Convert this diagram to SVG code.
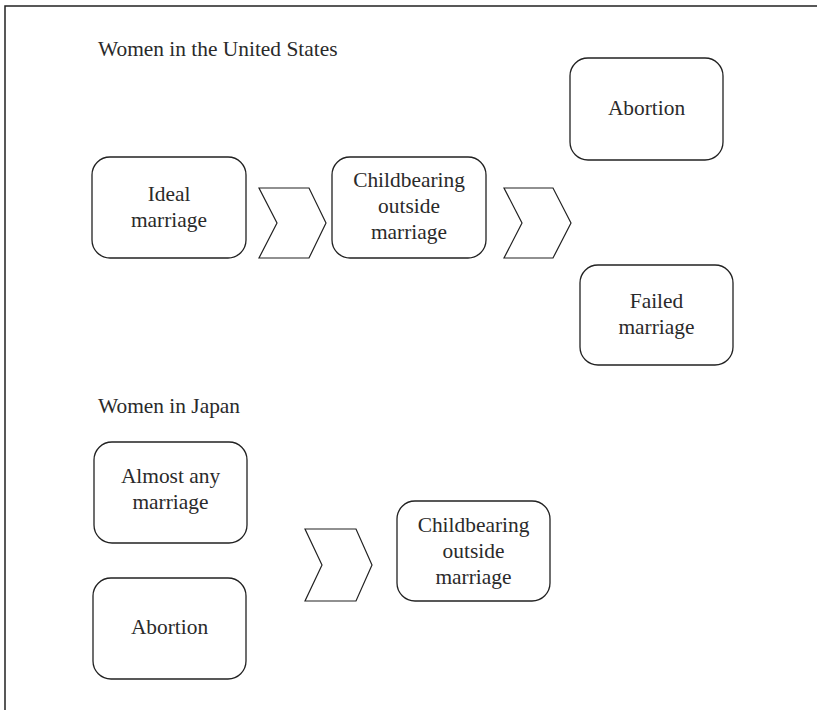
<svg xmlns="http://www.w3.org/2000/svg" width="817" height="710" viewBox="0 0 817 710">
<style>
.frame{fill:none;stroke:#222;stroke-width:1.5}
.box{fill:#fff;stroke:#222;stroke-width:1.3}
.chev{fill:#fff;stroke:#222;stroke-width:1.2}
text{font-family:"Liberation Serif","Times New Roman",serif;font-size:21.4px;fill:#2a2a2a}
.c{text-anchor:middle}
</style>
<rect width="817" height="710" fill="#fff"/>
<path class="frame" d="M5,710 V6 H817"/>
<text x="98" y="56">Women in the United States</text>
<text x="98" y="413">Women in Japan</text>
<g id="us-ideal"><rect class="box" x="92" y="157" width="154" height="101" rx="18"/><text class="c" x="169" y="201">Ideal</text><text class="c" x="169" y="227">marriage</text></g>
<g id="us-childbearing"><rect class="box" x="332" y="157" width="154" height="101" rx="18"/><text class="c" x="409" y="187">Childbearing</text><text class="c" x="409" y="213">outside</text><text class="c" x="409" y="239">marriage</text></g>
<g id="us-abortion"><rect class="box" x="570" y="58" width="153" height="102" rx="18"/><text class="c" x="646.5" y="115">Abortion</text></g>
<g id="us-failed"><rect class="box" x="580" y="265" width="153" height="100" rx="18"/><text class="c" x="656.5" y="308">Failed</text><text class="c" x="656.5" y="334">marriage</text></g>
<g id="jp-almost"><rect class="box" x="94" y="442" width="153" height="101" rx="18"/><text class="c" x="170.5" y="483">Almost any</text><text class="c" x="170.5" y="509">marriage</text></g>
<g id="jp-abortion"><rect class="box" x="93" y="578" width="153" height="101" rx="18"/><text class="c" x="169.5" y="634">Abortion</text></g>
<g id="jp-childbearing"><rect class="box" x="397" y="501" width="153" height="100" rx="18"/><text class="c" x="473.5" y="532">Childbearing</text><text class="c" x="473.5" y="558">outside</text><text class="c" x="473.5" y="584">marriage</text></g>
<g id="connectors">
<polygon class="chev" points="259,188 309,188 326,223 309,258 259,258 277,223"/>
<polygon class="chev" points="504,188 553,188 571,223 553,258 504,258 522,223"/>
<polygon class="chev" points="305,529 356,529 372,565 356,601 305,601 322,565"/>
</g>
</svg>
